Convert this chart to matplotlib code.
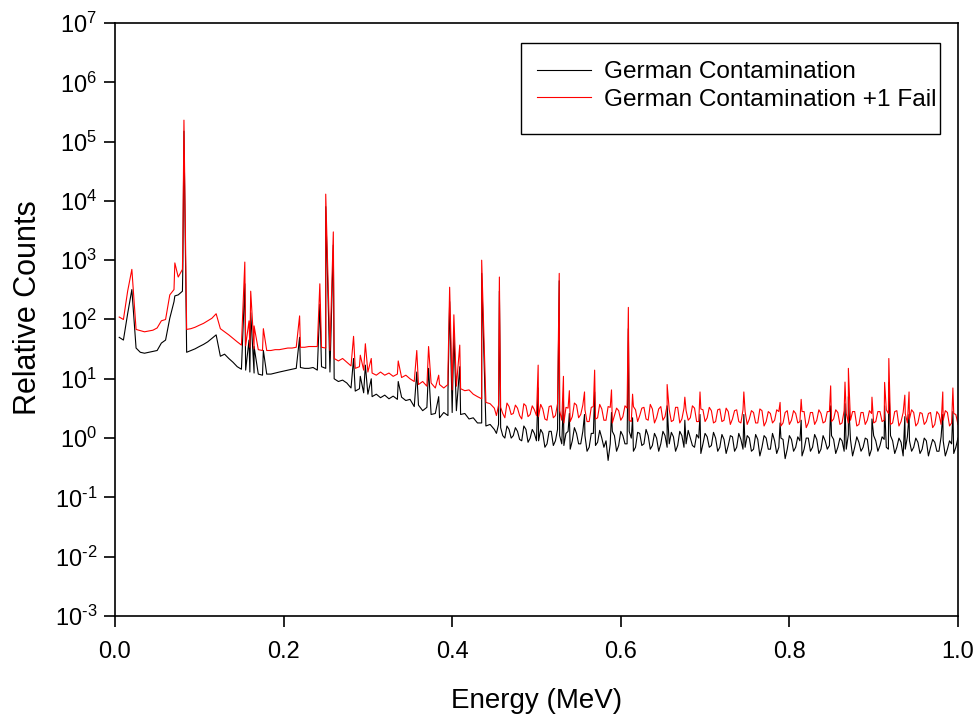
import numpy as np
import matplotlib
matplotlib.use("Agg")
import matplotlib.pyplot as plt
from matplotlib.patches import Rectangle

plt.rcParams['font.family'] = ['Liberation Sans', 'DejaVu Sans']

# continuum grid (MeV), read every 0.005 MeV
cont_energy = np.round(np.arange(1, 201) * 0.005, 3)

black_cont = [
    50, 45, 125, 320, 33, 28, 27, 28, 29, 30,
    40, 45, 105, 200, 260, 300, 28, 30, 32, 35,
    38, 42, 48, 55, 24, 26, 22, 19, 16, 14.5,
    14, 13, 12.5, 12, 11.5, 12, 12, 12.5, 13, 13.5,
    14, 14.5, 15, 15.5, 15, 15, 15.5, 14, 16, 15,
    13, 10, 9, 9.5, 8.5, 7, 6.2, 6.8, 5.8, 5.5,
    5.0, 5.5, 4.8, 5.3, 4.6, 5.1, 4.5, 4.9, 4.3, 4.5,
    3.4, 3.6, 2.9, 3.3, 2.5, 2.6, 2.2, 2.7, 2.4, 2.7,
    2.9, 2.5, 2.6, 2.1, 2.2, 1.8, 1.8, 1.6, 1.7, 1.4,
    1.7, 1.1, 1.6, 1.0, 1.5, 0.95, 1.6, 0.85, 1.4, 0.9,
    1.4, 0.7, 1.3, 0.75, 1.4, 0.8, 1.2, 0.65, 1.5, 0.8,
    1.3, 0.6, 1.2, 0.75, 1.35, 0.7, 0.42, 1.3, 0.6, 1.3,
    0.8, 1.3, 0.6, 1.25, 0.75, 1.4, 0.65, 1.2, 0.6, 1.3,
    0.7, 1.25, 0.6, 1.3, 0.7, 1.35, 0.75, 1.15, 0.55, 1.2,
    0.7, 1.25, 0.6, 1.15, 0.55, 1.1, 0.6, 1.2, 0.65, 1.1,
    0.6, 1.15, 0.5, 1.1, 0.65, 1.2, 0.55, 1.0, 0.45, 1.1,
    0.6, 1.05, 0.5, 1.0, 0.6, 1.15, 0.55, 1.1, 0.65, 1.1,
    0.55, 1.0, 0.6, 1.15, 0.5, 1.05, 0.6, 1.0, 0.5, 1.1,
    0.6, 1.05, 0.7, 1.1, 0.55, 1.0, 0.5, 1.05, 0.6, 1.0,
    0.55, 1.0, 0.5, 0.95, 0.6, 1.05, 0.5, 0.9, 0.55, 1.0,
]

red_cont = [
    110, 100, 300, 700, 68, 65, 62, 64, 66, 72,
    95, 100, 260, 320, 520, 700, 68, 70, 74, 80,
    86, 95, 105, 125, 70, 62, 55, 48, 42, 37,
    36, 34, 32, 31, 30, 30, 30, 31, 31, 32,
    33, 33, 34, 34, 34, 35, 35, 35, 34, 33,
    30, 22, 20, 22, 19, 16.5, 15, 16, 14, 13,
    12.5, 11.5, 13, 11.5, 12.5, 11, 12, 10.5, 11.5, 10,
    9, 8, 9, 7.5, 8.5, 7, 8, 7, 8, 6.5,
    7.5, 6.8, 6.3, 6.5, 5.5, 5.0, 4.6, 4.0, 3.8, 3.2,
    3.6, 2.6, 3.9, 2.5, 3.6, 2.4, 3.8, 2.3, 3.5, 2.4,
    3.7, 2.1, 3.4, 2.2, 3.8, 2.0, 3.3, 1.9, 3.9, 2.2,
    3.6, 1.9, 3.3, 2.1, 3.7, 2.0, 3.4, 1.8, 3.2, 2.0,
    3.5, 2.0, 3.4, 1.9, 3.2, 2.1, 3.7, 1.8, 3.1, 2.0,
    3.6, 1.9, 3.3, 1.8, 3.2, 2.0, 3.5, 1.9, 3.1, 1.9,
    3.3, 1.8, 3.0, 1.9, 3.2, 1.7, 2.9, 1.9, 3.0, 1.7,
    2.9, 1.8, 3.1, 1.6, 2.8, 1.8, 3.0, 1.6, 2.7, 1.7,
    2.9, 1.8, 2.8, 1.5, 2.7, 1.7, 3.0, 1.8, 2.8, 1.9,
    3.0, 1.7, 2.9, 1.8, 2.8, 1.6, 2.7, 1.7, 2.9, 1.8,
    2.8, 1.9, 3.0, 1.7, 2.8, 1.6, 2.7, 1.8, 3.0, 1.6,
    2.7, 1.7, 2.6, 1.5, 2.8, 1.7, 2.9, 1.6, 2.6, 1.7,
]

# extra readings between grid points in the noisy tail (0.4525 ... 0.9975 MeV)
mid_energy = np.round(cont_energy[90:] - 0.0025, 4)

black_mid = [
    1.2, 1.5, 1.0, 1.4, 1.1, 1.3, 0.9, 1.4, 1.0, 1.2,
    0.9, 1.2, 0.8, 1.3, 0.9, 1.1, 0.75, 1.3, 0.9, 1.2,
    0.8, 1.1, 0.7, 1.2, 0.85, 1.0, 0.9, 0.8, 1.1, 0.75,
    1.1, 0.8, 1.0, 0.7, 1.2, 0.8, 1.1, 0.75, 1.0, 0.8,
    1.1, 0.8, 1.05, 0.75, 1.1, 0.8, 1.0, 0.7, 1.0, 0.8,
    1.05, 0.75, 1.0, 0.7, 0.95, 0.75, 1.05, 0.7, 0.95, 0.7,
    1.0, 0.65, 0.95, 0.7, 1.0, 0.65, 0.9, 0.7, 0.95, 0.65,
    0.95, 0.7, 0.9, 0.65, 1.0, 0.7, 0.95, 0.65, 0.9, 0.75,
    0.95, 0.7, 0.9, 0.65, 0.95, 0.7, 0.85, 0.7, 0.95, 0.65,
    0.9, 0.75, 0.95, 0.65, 0.9, 0.7, 0.85, 0.65, 0.9, 0.7,
    0.85, 0.65, 0.9, 0.7, 0.85, 0.6, 0.9, 0.65, 0.8, 0.7,
]

red_mid = [
    2.4, 3.3, 2.2, 3.4, 2.6, 3.2, 2.1, 3.5, 2.5, 3.0,
    2.3, 3.1, 2.0, 3.5, 2.4, 2.9, 1.8, 3.2, 2.3, 3.6,
    2.5, 3.0, 1.9, 3.4, 2.2, 3.1, 2.0, 3.3, 2.4, 2.9,
    2.3, 3.2, 1.9, 3.0, 2.4, 3.3, 2.0, 3.1, 2.2, 3.4,
    2.3, 3.0, 2.0, 3.3, 2.1, 2.9, 2.2, 3.2, 1.9, 3.0,
    2.2, 2.9, 1.9, 3.1, 2.0, 2.8, 2.1, 3.0, 1.8, 2.8,
    2.1, 2.7, 1.8, 2.9, 1.9, 2.6, 2.0, 2.8, 1.8, 2.9,
    2.0, 2.6, 1.9, 2.8, 1.8, 2.7, 2.0, 2.6, 1.9, 2.8,
    2.1, 2.7, 1.8, 2.6, 2.0, 2.8, 1.7, 2.7, 2.0, 2.6,
    1.9, 2.8, 2.0, 2.6, 1.8, 2.9, 1.9, 2.6, 2.1, 2.7,
    1.8, 2.6, 1.9, 2.7, 1.7, 2.5, 2.0, 2.7, 1.8, 2.5,
]

# peaks (MeV)
peak_energy = [
    0.0710, 0.0805, 0.0818, 0.1540, 0.1590, 0.1610, 0.1650, 0.1760,
    0.2190, 0.2430, 0.2500, 0.2590, 0.2830, 0.2910, 0.2970, 0.3040,
    0.3360, 0.3580, 0.3720, 0.3840, 0.3950, 0.3970, 0.4020, 0.4090,
    0.4350, 0.4560, 0.5020, 0.5270, 0.5320, 0.5390, 0.5570, 0.5690,
    0.5890, 0.6090, 0.6140, 0.6550, 0.6760, 0.6940, 0.7460, 0.7890,
    0.8140, 0.8490, 0.8660, 0.8700, 0.8980, 0.9130, 0.9180, 0.9370,
    0.9420, 0.9820, 0.9940,
]
red_peak = [
    900, 2000, 230000, 930, 95, 300, 78, 70,
    115, 400, 13000, 3000, 52, 25, 39, 22,
    20, 30, 35, 11.5, 13, 350, 120, 37,
    1000, 520, 17, 600, 11, 6.3, 6, 14,
    6.5, 160, 5.5, 8, 4.9, 6, 6, 4,
    4.5, 7.6, 8.8, 15, 4.9, 8.7, 22, 5.3,
    6, 6, 7,
]
black_peak = [
    250, 800, 150000, 400, 45, 130, 35, 30,
    50, 180, 8000, 1800, 22, 11, 17, 10,
    9, 13, 15, 5, 6, 200, 60, 16,
    600, 300, 7, 450, 4.5, 2.6, 2.5, 6,
    2.7, 70, 2.2, 3.5, 2, 2.5, 2.5, 1.8,
    2, 3.5, 3.8, 5, 2.1, 3.5, 8.7, 2.3,
    2.5, 2.5, 2.8,
]

x_ticks = [0.0, 0.2, 0.4, 0.6, 0.8, 1.0]
y_exponents = list(range(-3, 8))


def merge(cont, mid, peaks):
    e = np.concatenate([cont_energy, mid_energy, peak_energy])
    v = np.concatenate([cont, mid, peaks])
    order = np.argsort(e, kind='stable')
    return e[order], v[order]


def exp_label(k):
    s = str(k).replace('-', '\u2010')
    return r"$\mathregular{10^{%s}}$" % s


fig = plt.figure(figsize=(9.77, 7.17), dpi=100)
ax = fig.add_axes([0.1177, 0.1409, 0.8628, 0.827])

e_b, v_b = merge(black_cont, black_mid, black_peak)
e_r, v_r = merge(red_cont, red_mid, red_peak)
ax.plot(e_b, v_b, color='black', lw=0.8, label='German Contamination')
ax.plot(e_r, v_r, color='#ff0000', lw=0.8, label='German Contamination +1 Fail')

ax.set_yscale('log')
ax.set_xlim(0, 1.0)
ax.set_ylim(1e-3, 1e7)
ax.set_xticks(x_ticks)
ax.set_xticklabels([f"{t:.1f}" for t in x_ticks])
ax.set_yticks([10.0 ** k for k in y_exponents])
ax.set_yticklabels([exp_label(k) for k in y_exponents])
ax.minorticks_off()
ax.tick_params(axis='both', direction='out', length=8, width=1.2, labelsize=17, pad=5)
ax.tick_params(axis='x', pad=10)
for s in ax.spines.values():
    s.set_linewidth(1.2)

ax.set_xlabel("Energy (MeV)", fontsize=20, labelpad=18)
ax.set_ylabel("Relative Counts", fontsize=22)
ax.yaxis.set_label_coords(-0.085, 0.52)

# legend text without its own frame, box drawn separately (text sits close to right edge)
leg = ax.legend(loc='center left', bbox_to_anchor=(0.5006, 0.8938), borderaxespad=0,
                fontsize=17.6, frameon=False, handlelength=2.2,
                handletextpad=0.55, borderpad=0, labelspacing=0.22)
ax.add_patch(Rectangle((0.4816, 0.8128), 0.497, 0.1535, transform=ax.transAxes,
                       fill=False, edgecolor='black', linewidth=1.0, zorder=5))

fig.savefig("out.png", dpi=100)
